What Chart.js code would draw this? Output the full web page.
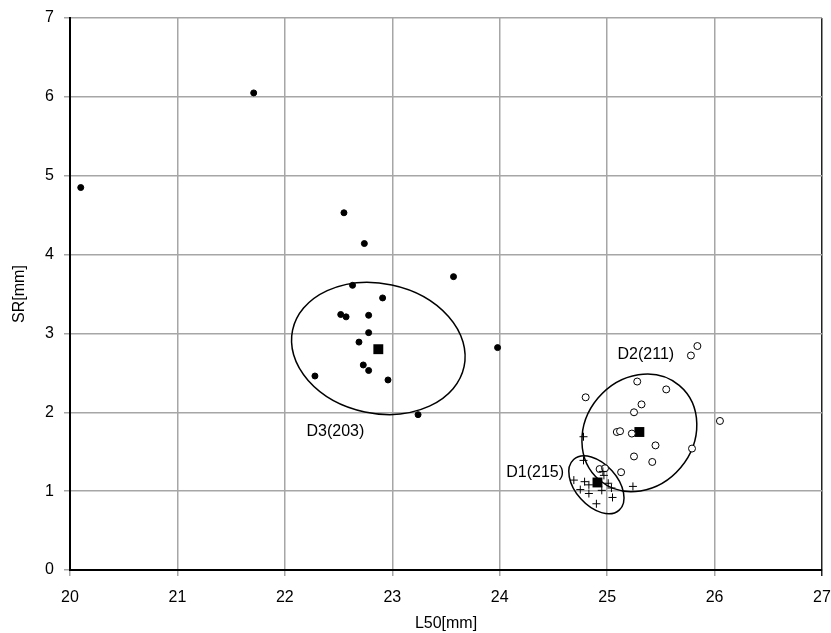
<!DOCTYPE html>
<html>
<head>
<meta charset="utf-8">
<script src="https://cdn.jsdelivr.net/npm/chart.js@4/dist/chart.umd.min.js"></script>
<style>
html, body { margin: 0; padding: 0; background: #fff; }
#wrap { width: 831px; height: 633px; }
</style>
</head>
<body>
<div id="wrap"><canvas id="myChart" width="831" height="633"></canvas></div>
<script>
const xTicks = [20, 21, 22, 23, 24, 25, 26, 27];
const yTicks = [0, 1, 2, 3, 4, 5, 6, 7];

// D3 (filled dots)
const d3X = [20.10, 21.71, 22.55, 22.74, 23.57, 22.63, 22.91, 22.52, 22.57, 22.78, 22.78, 22.69, 22.73, 22.78, 22.96, 22.28, 23.98, 23.24];
const d3Y = [4.85, 6.05, 4.53, 4.14, 3.72, 3.61, 3.45, 3.24, 3.21, 3.23, 3.01, 2.89, 2.60, 2.53, 2.41, 2.46, 2.82, 1.97];

// D2 (open circles)
const d2X = [25.78, 25.84, 25.28, 25.55, 24.80, 25.32, 25.25, 26.05, 25.09, 25.12, 25.23, 25.45, 25.79, 25.25, 25.42, 25.13, 24.93, 24.98];
const d2Y = [2.72, 2.84, 2.39, 2.29, 2.19, 2.10, 2.00, 1.89, 1.75, 1.76, 1.73, 1.58, 1.54, 1.44, 1.37, 1.24, 1.28, 1.29];

// D1 (crosses)
const d1X = [24.78, 24.78, 24.96, 24.97, 24.69, 24.79, 24.83, 25.01, 24.75, 24.83, 24.95, 25.04, 25.05, 25.24, 24.90];
const d1Y = [1.69, 1.39, 1.25, 1.20, 1.14, 1.12, 1.08, 1.10, 1.02, 0.97, 1.01, 1.04, 0.92, 1.06, 0.84];

// group means (black squares)
const meanX = [24.91, 25.30, 22.87];
const meanY = [1.11, 1.75, 2.80];

// ellipses: centre, half axes (x units / y units), screen angle in degrees
const ellCx = [24.90, 25.30, 22.87];
const ellCy = [1.08, 1.74, 2.81];
const ellRa = [0.317, 0.577, 0.816];
const ellRb = [0.266, 0.685, 0.823];
const ellAngle = [48, -50, 12];

// group labels
const groupNames = ['D1(215)', 'D2(211)', 'D3(203)'];
const labelX = [24.33, 25.36, 22.47];
const labelY = [1.23, 2.73, 1.75];

const fontFamily = "'Liberation Sans', Arial, sans-serif";

function toPoints(xs, ys) {
    return xs.map((x, i) => ({x: x, y: ys[i]}));
}

const groupExtras = {
    id: 'groupExtras',
    beforeDatasetsDraw(chart) {
        const ctx = chart.ctx;
        const xs = chart.scales.x;
        const ys = chart.scales.y;
        ctx.save();
        ctx.strokeStyle = '#000';
        ctx.lineWidth = 1.5;
        for (let i = 0; i < ellCx.length; i++) {
            const px = xs.getPixelForValue(ellCx[i]);
            const py = ys.getPixelForValue(ellCy[i]);
            const rx = Math.abs(xs.getPixelForValue(ellCx[i] + ellRa[i]) - px);
            const ry = Math.abs(ys.getPixelForValue(ellCy[i] + ellRb[i]) - py);
            ctx.beginPath();
            ctx.ellipse(px, py, rx, ry, ellAngle[i] * Math.PI / 180, 0, Math.PI * 2);
            ctx.stroke();
        }
        ctx.restore();
    },
    afterDatasetsDraw(chart) {
        const ctx = chart.ctx;
        const xs = chart.scales.x;
        const ys = chart.scales.y;
        ctx.save();
        ctx.fillStyle = '#000';
        ctx.font = '16px ' + fontFamily;
        ctx.textAlign = 'center';
        ctx.textBaseline = 'middle';
        for (let i = 0; i < groupNames.length; i++) {
            ctx.fillText(groupNames[i], xs.getPixelForValue(labelX[i]), ys.getPixelForValue(labelY[i]));
        }
        ctx.restore();
    }
};

const ctx = document.getElementById('myChart').getContext('2d');
const myChart = new Chart(ctx, {
    type: 'scatter',
    data: {
        datasets: [
            {
                label: 'D1',
                data: toPoints(d1X, d1Y),
                pointStyle: 'cross',
                radius: 4,
                borderColor: '#000',
                borderWidth: 1
            },
            {
                label: 'D2',
                data: toPoints(d2X, d2Y),
                pointStyle: 'circle',
                radius: 3.5,
                backgroundColor: '#fff',
                borderColor: '#000',
                borderWidth: 1
            },
            {
                label: 'D3',
                data: toPoints(d3X, d3Y),
                pointStyle: 'circle',
                radius: 3,
                backgroundColor: '#000',
                borderColor: '#000',
                borderWidth: 1
            },
            {
                label: 'mean',
                data: toPoints(meanX, meanY),
                pointStyle: 'rect',
                radius: 7,
                backgroundColor: '#000',
                borderColor: '#000',
                borderWidth: 0
            }
        ]
    },
    options: {
        responsive: false,
        animation: false,
        layout: {
            padding: {top: 18, right: 9, left: 0, bottom: 0}
        },
        plugins: {
            legend: {display: false},
            tooltip: {enabled: false}
        },
        scales: {
            x: {
                type: 'linear',
                min: 20,
                max: 27,
                afterBuildTicks: s => { s.ticks = xTicks.map(v => ({value: v})); },
                afterFit: s => { s.height = 63; s.paddingLeft = 0; s.paddingRight = 0; },
                grid: {
                    color: c => (c.tick && c.tick.value === 27) ? '#222' : '#a6a6a6',
                    lineWidth: 1.5,
                    tickLength: 6
                },
                border: {color: '#000', width: 2},
                ticks: {
                    color: '#000',
                    padding: 12,
                    maxRotation: 0,
                    font: {size: 16, family: fontFamily}
                },
                title: {
                    display: true,
                    text: 'L50[mm]',
                    color: '#000',
                    padding: {top: 0, bottom: 0},
                    font: {size: 16, family: fontFamily}
                }
            },
            y: {
                type: 'linear',
                min: 0,
                max: 7,
                afterBuildTicks: s => { s.ticks = yTicks.map(v => ({value: v})); },
                afterFit: s => { s.width = 70; s.paddingTop = 0; s.paddingBottom = 0; },
                grid: {
                    color: '#a6a6a6',
                    lineWidth: 1.5,
                    tickLength: 6
                },
                border: {color: '#000', width: 2},
                ticks: {
                    color: '#000',
                    padding: 10,
                    font: {size: 16, family: fontFamily}
                },
                title: {
                    display: true,
                    text: 'SR[mm]',
                    color: '#000',
                    padding: {top: 10, bottom: 0},
                    font: {size: 16, family: fontFamily}
                }
            }
        }
    },
    plugins: [groupExtras]
});
</script>
</body>
</html>
